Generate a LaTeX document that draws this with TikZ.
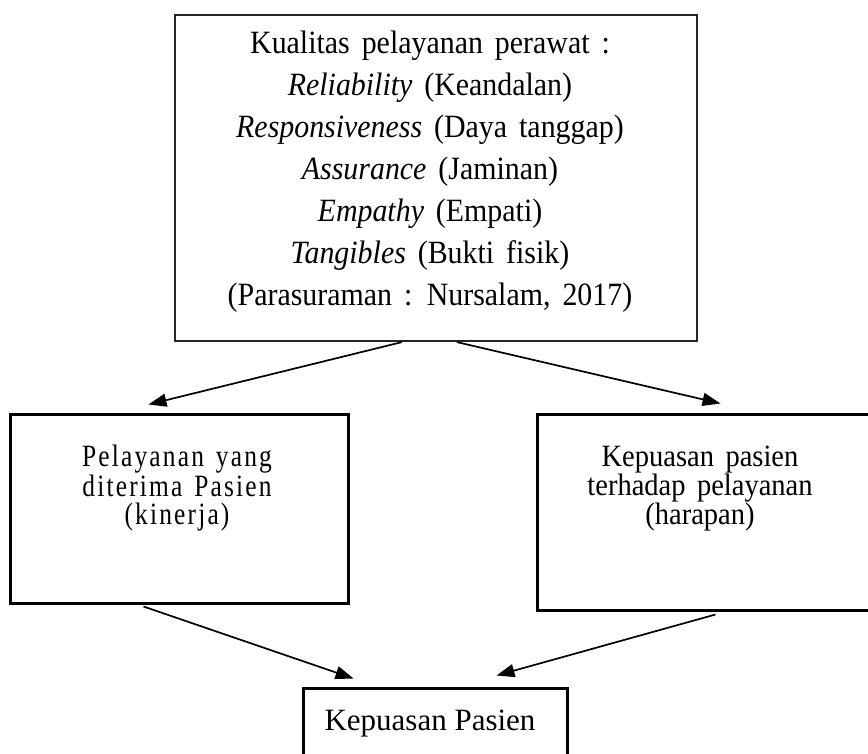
\documentclass[tikz,border=0pt]{standalone}
\usepackage{fontspec}
\setmainfont{Liberation Serif}
\newfontfamily\tallserif[FakeStretch=0.92,WordSpace=1.6]{Liberation Serif}
\newfontfamily\narrowserif[FakeStretch=0.82,LetterSpace=7,WordSpace=1.4]{Liberation Serif}
\usetikzlibrary{arrows.meta,calc}
\begin{document}
\begin{tikzpicture}[x=1pt,y=-1pt,
  box/.style={draw=black, line width=3pt, rectangle, inner sep=0pt},
  txt/.style={align=center, inner sep=0pt, font=\tallserif\fontsize{32.5}{42}\selectfont},
  txtleft/.style={align=center, inner sep=0pt, font=\narrowserif\fontsize{31}{28}\selectfont},
  txtright/.style={align=center, inner sep=0pt, font=\tallserif\fontsize{31}{29}\selectfont},
  arr/.style={line width=1.7pt, -{Triangle[length=18pt,width=13pt]}}]
\useasboundingbox (0,0) rectangle (868,753);
\clip (0,0) rectangle (868,753);
\fill[white] (0,0) rectangle (868,753);
% boxes
\node[box, draw=black!85, line width=2.2pt, minimum width=522pt, minimum height=326pt] (topbox) at (436,178) {};
\node[box, minimum width=338pt, minimum height=189pt] (leftbox) at (179,508.5) {};
\node[box, minimum width=343pt, minimum height=196pt] (rightbox) at (708.5,512) {};
\node[box, minimum width=264pt, minimum height=82pt] (botbox) at (435,729) {};
% texts
\node[txt] (toptext) at (430,171.5) {Kualitas pelayanan perawat :\\
\textit{Reliability} (Keandalan)\\
\textit{Responsiveness} (Daya tanggap)\\
\textit{Assurance} (Jaminan)\\
\textit{Empathy} (Empati)\\
\textit{Tangibles} (Bukti fisik)\\
(Parasuraman : Nursalam, 2017)};
\node[txtleft] (lefttext) at (177,488) {Pelayanan yang\\ diterima Pasien\\ (kinerja)};
\node[txtright] (righttext) at (700,489) {Kepuasan pasien\\ terhadap pelayanan\\ (harapan)};
\node[inner sep=0pt, anchor=base, font=\fontsize{31}{36}\selectfont] (bottext) at (430,730) {Kepuasan Pasien};
% arrows
\draw[arr] ($(topbox.south west)+(228,0)$) -- ($(leftbox.north west)+(140,-8)$);
\draw[arr] ($(topbox.south west)+(283,0)$) -- ($(rightbox.north west)+(185,-9)$);
\draw[arr] ($(leftbox.south west)+(135,2)$) -- ($(botbox.north west)+(52,-8)$);
\draw[arr] ($(rightbox.south west)+(180,3)$) -- ($(botbox.north west)+(195,-11)$);
\end{tikzpicture}
\end{document}
